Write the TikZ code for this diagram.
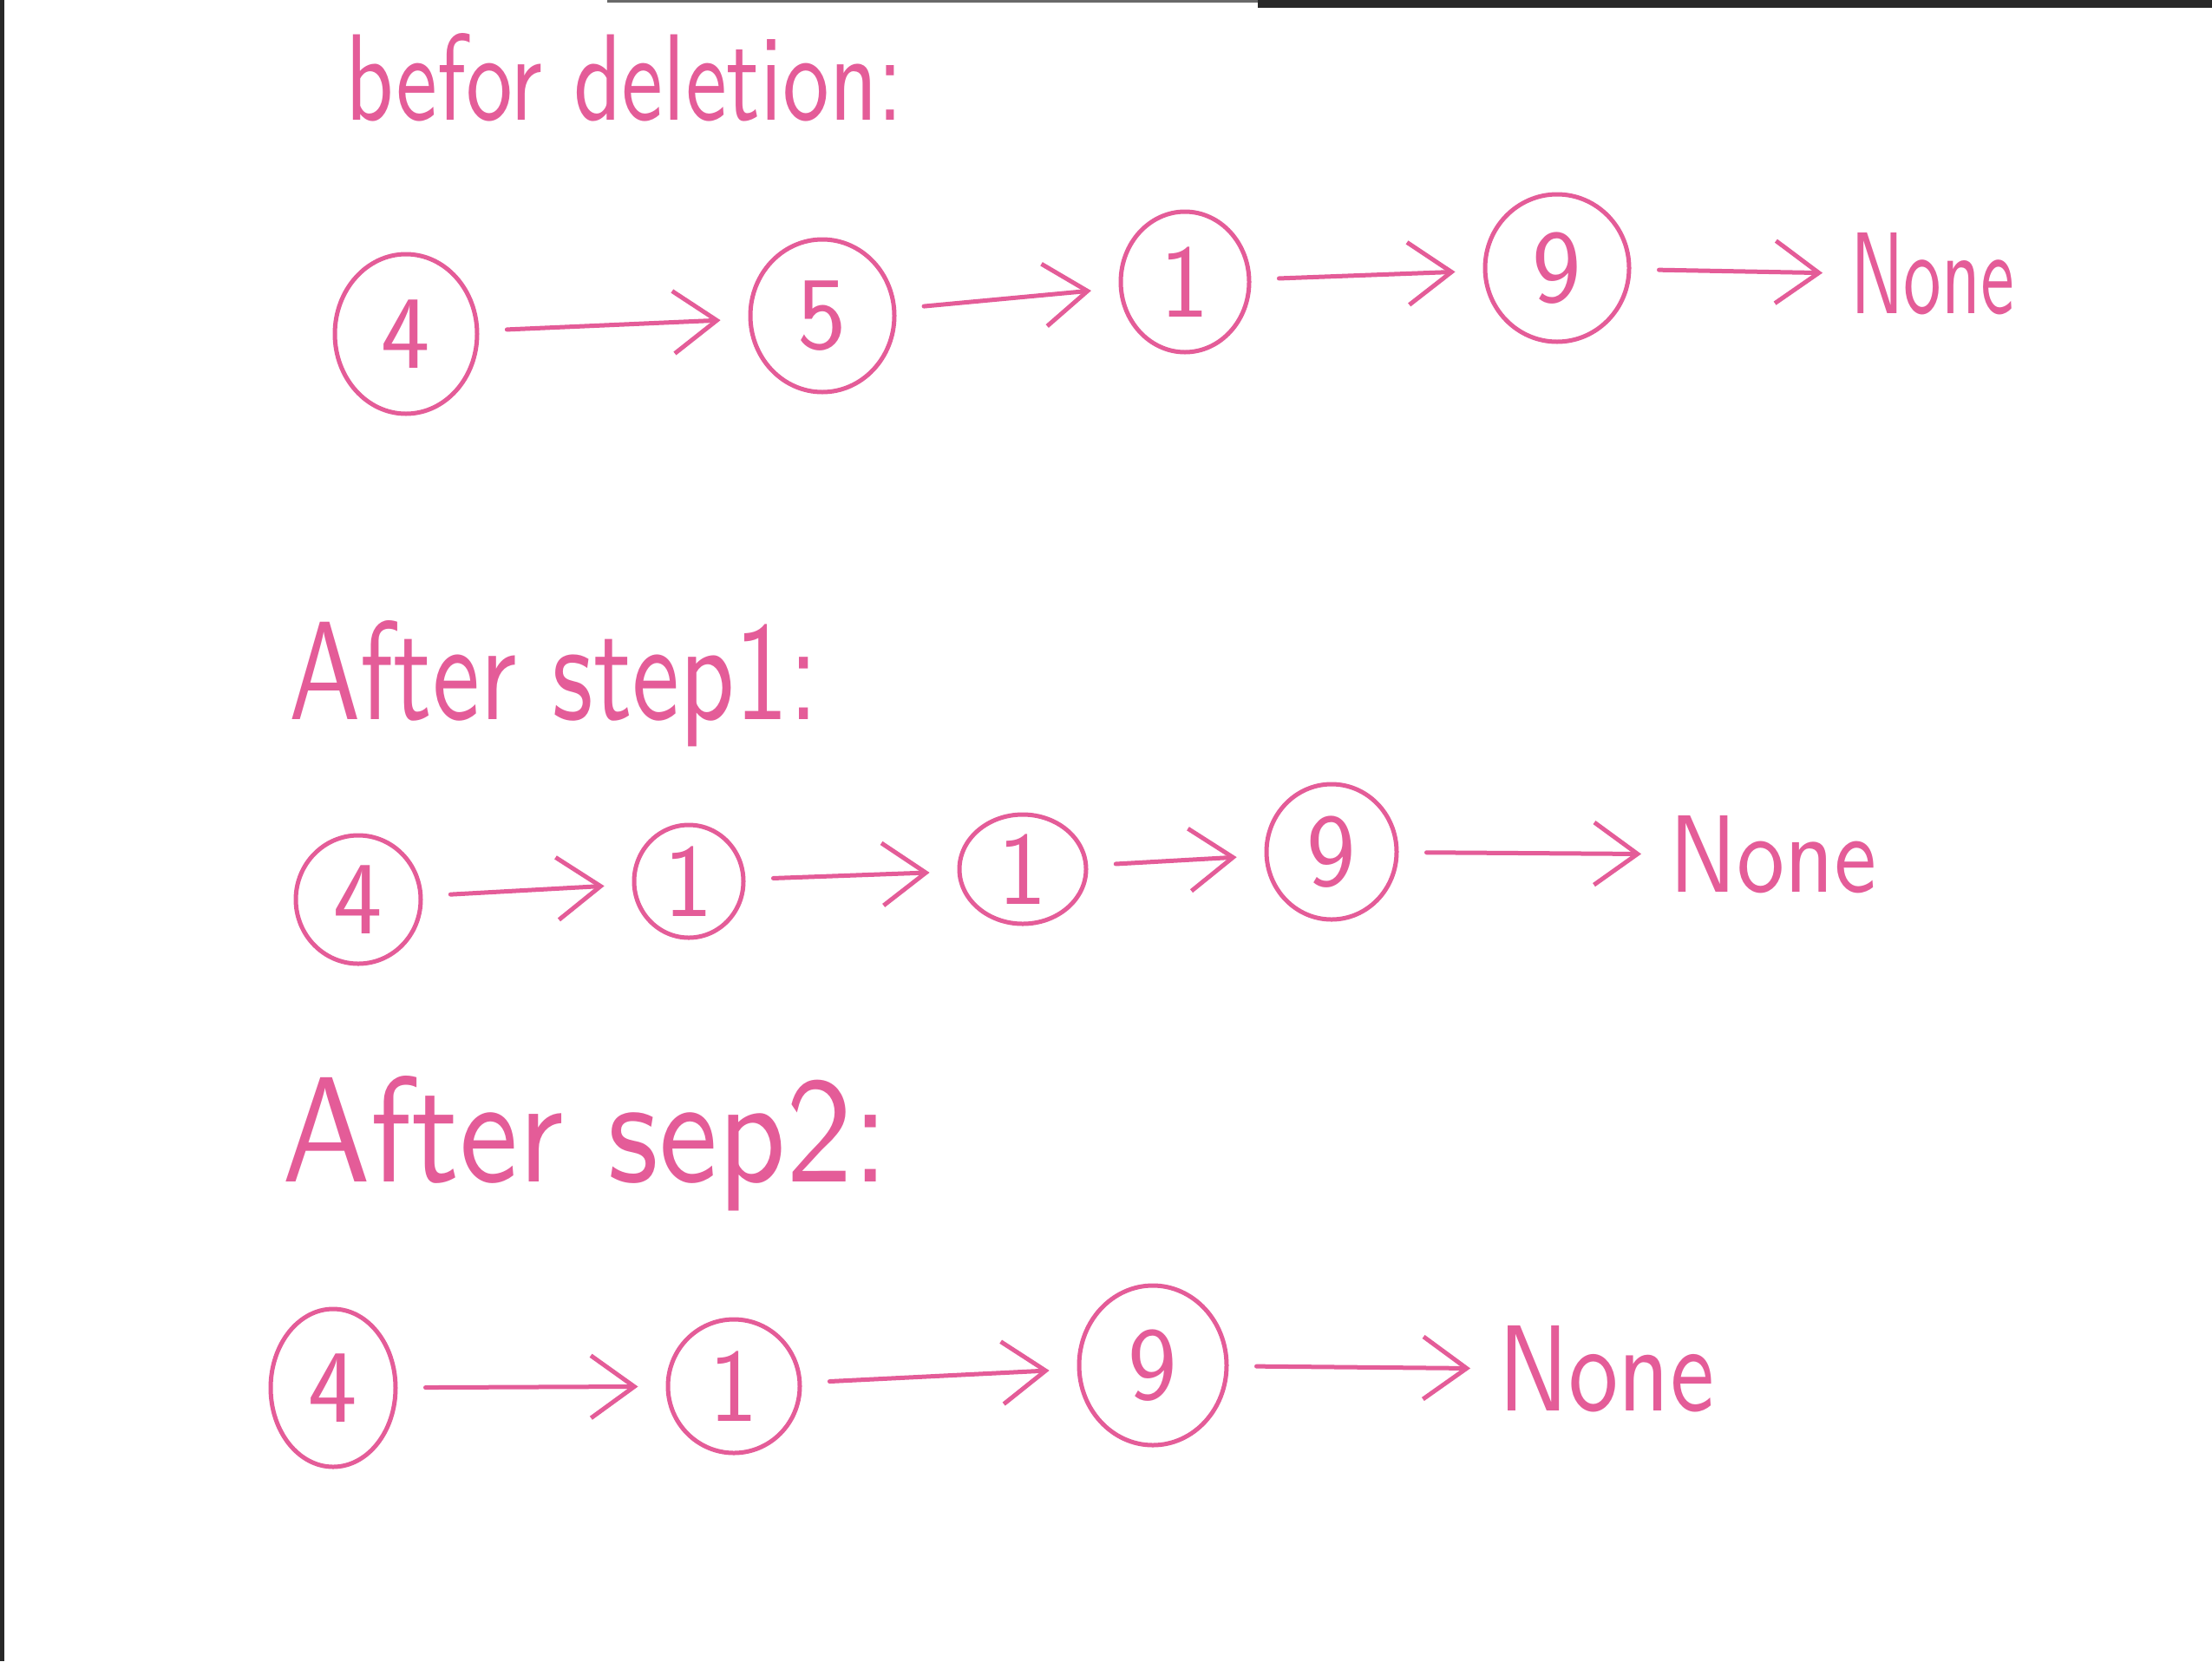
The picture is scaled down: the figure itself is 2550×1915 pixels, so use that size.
\documentclass[tikz,border=0pt]{standalone}
\usepackage{graphicx}
\usetikzlibrary{shapes.geometric,arrows.meta}
\definecolor{ink}{RGB}{228,92,152}
\definecolor{scan}{RGB}{40,40,40}
\tikzset{
  nd/.style={draw=ink, line width=5pt, ellipse, inner sep=0pt, text=ink,
             font=\sffamily\fontsize{120}{120}\selectfont},
  word/.style={text=ink, inner sep=0pt, anchor=base west},
  arr/.style={draw=ink, line width=5pt, line cap=round,
              -{Straight Barb[length=50pt,width=72pt,line width=5pt]},
              shorten <=32pt, shorten >=32pt},
}
\newcommand{\hw}[3]{\resizebox{#1pt}{#2pt}{\sffamily #3}}
\begin{document}
\begin{tikzpicture}[x=1pt,y=-1pt]
\useasboundingbox (0,0) rectangle (2550,1915);
\fill[white] (0,0) rectangle (2550,1915);
% scan edges
\fill[scan] (0,0) rectangle (5,1915);
\fill[scan] (1450,0) rectangle (2550,9);
\fill[scan!70] (700,0) rectangle (1450,3);

% titles
\node[word] (t1) at (398,138) {\hw{643}{100}{befor deletion:}};
\node[word] (t2) at (333,829) {\hw{610}{114}{After step1:}};
\node[word] (t3) at (325,1362) {\hw{700}{122}{After sep2:}};

% row 1
\node[nd, minimum width=164pt, minimum height=184pt] (a4) at (468,385) {4};
\node[nd, minimum width=166pt, minimum height=176pt] (a5) at (948,364) {5};
\node[nd, minimum width=148pt, minimum height=162pt] (a1) at (1366,325) {1};
\node[nd, minimum width=166pt, minimum height=170pt] (a9) at (1795,309) {9};
\node[word] (aN) at (2133,361) {\hw{189}{93}{None}};
\draw[arr] (a4) -- (a5);
\draw[arr] (a5) -- (a1);
\draw[arr] (a1) -- (a9);
\draw[arr] (a9) -- (aN.west);

% row 2
\node[nd, minimum width=144pt, minimum height=148pt] (b4) at (413,1037) {4};
\node[nd, minimum width=126pt, minimum height=130pt] (b1) at (794,1016) {1};
\node[nd, minimum width=146pt, minimum height=126pt] (b1b) at (1179,1002) {1};
\node[nd, minimum width=150pt, minimum height=156pt] (b9) at (1535,982) {9};
\node[word] (bN) at (1924,1028) {\hw{239}{88}{None}};
\draw[arr] (b4) -- (b1);
\draw[arr] (b1) -- (b1b);
\draw[arr] (b1b) -- (b9);
\draw[arr] (b9) -- (bN.west);

% row 3
\node[nd, minimum width=144pt, minimum height=182pt] (c4) at (384,1600) {4};
\node[nd, minimum width=152pt, minimum height=154pt] (c1) at (846,1598) {1};
\node[nd, minimum width=170pt, minimum height=184pt] (c9) at (1329,1574) {9};
\node[word] (cN) at (1727,1626) {\hw{249}{98}{None}};
\draw[arr] (c4) -- (c1);
\draw[arr] (c1) -- (c9);
\draw[arr] (c9) -- (cN.west);
\end{tikzpicture}
\end{document}
